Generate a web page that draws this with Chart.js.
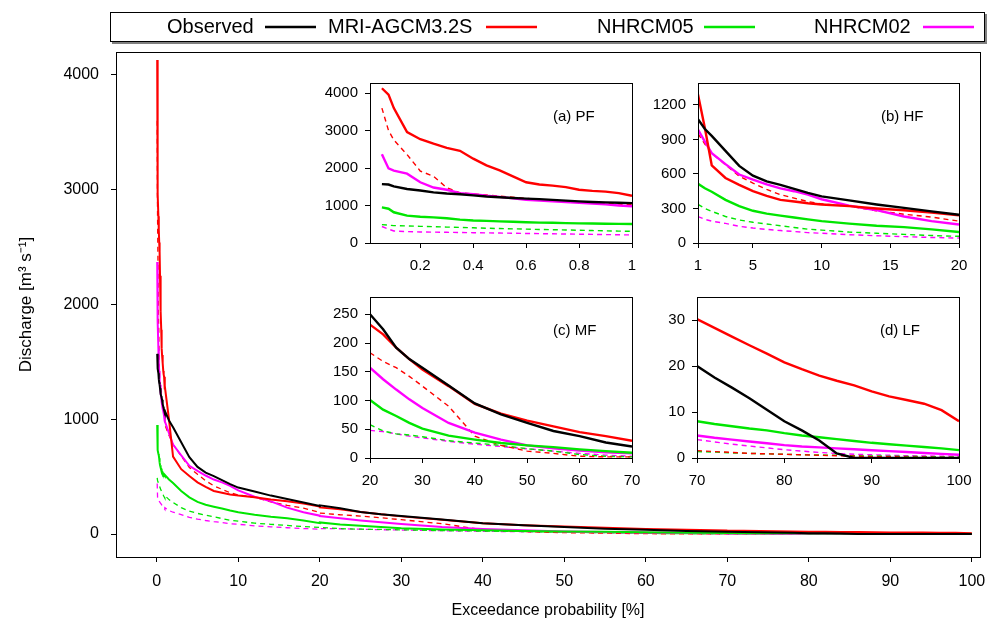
<!DOCTYPE html>
<html>
<head>
<meta charset="utf-8">
<title>Flow duration curves</title>
<script src="https://cdn.jsdelivr.net/npm/chart.js@4.4.1/dist/chart.umd.min.js"></script>
<style>
  html, body { margin: 0; padding: 0; background: #fff; }
  #wrap { position: relative; width: 990px; height: 624px; overflow: hidden; }
  #wrap canvas { position: absolute; }
</style>
</head>
<body>
<div id="wrap">
  <canvas id="mainChart"></canvas>
  <canvas id="pfChart"></canvas>
  <canvas id="hfChart"></canvas>
  <canvas id="mfChart"></canvas>
  <canvas id="lfChart"></canvas>
</div>
<script>
// exceedance probability [%] for each flow segment
const pfX = [0.055, 0.08, 0.1, 0.15, 0.2, 0.25, 0.3, 0.35, 0.4, 0.45, 0.5, 0.55, 0.6, 0.65, 0.7, 0.75, 0.8, 0.85, 0.9, 0.95, 1.0];
const hfX = [1, 1.5, 2, 3, 4, 5, 6, 7, 8, 9, 10, 12, 14, 16, 18, 20];
const mfX = [20, 22.5, 25, 27.5, 30, 35, 40, 45, 50, 55, 60, 65, 70];
const lfX = [70, 72, 74, 76, 78, 80, 82, 84, 86, 88, 90, 92, 94, 96, 98, 100];

// Observed
const obsPF = [1570, 1560, 1510, 1440, 1400, 1350, 1320, 1300, 1270, 1240, 1220, 1200, 1185, 1170, 1150, 1130, 1110, 1095, 1085, 1075, 1065];
const obsHF = [1075, 990, 930, 800, 670, 585, 535, 505, 470, 435, 405, 370, 335, 305, 275, 245];
const obsMF = [250, 224, 192, 172, 157, 126, 95, 76, 61, 47, 38, 27, 20];
const obsLF = [20, 17.5, 15.3, 13, 10.5, 8, 6, 3.8, 1.0, 0, 0, 0, 0, 0, 0, 0];

// MRI-AGCM3.2S (solid) and its dashed counterpart
const mriPF = [4130, 3960, 3600, 2960, 2770, 2650, 2540, 2460, 2250, 2070, 1940, 1780, 1620, 1560, 1530, 1490, 1420, 1390, 1370, 1330, 1260];
const mriHF = [1290, 1000, 675, 565, 505, 450, 410, 375, 360, 345, 335, 320, 300, 285, 265, 240];
const mriMF = [232, 215, 192, 172, 154, 125, 94, 77, 65, 55, 45, 38, 30];
const mriLF = [30.2, 28.3, 26.4, 24.5, 22.7, 20.8, 19.3, 17.9, 16.8, 15.8, 14.5, 13.4, 12.6, 11.8, 10.4, 8];
const mriDashPF = [3600, 3000, 2750, 2360, 1920, 1780, 1475, 1340, 1310, 1280, 1250, 1220, 1190, 1160, 1140, 1120, 1100, 1080, 1060, 1040, 1020];
const mriDashHF = [950, 860, 780, 680, 580, 520, 465, 420, 390, 360, 340, 320, 280, 250, 225, 190];
const mriDashMF = [183, 168, 157, 142, 125, 90, 38, 22, 12, 8, 3, 2, 2];
const mriDashLF = [1.6, 1.4, 1.2, 1, 0.9, 0.8, 0.7, 0.6, 0.5, 0.4, 0.3, 0.3, 0.2, 0.2, 0.1, 0.1];

// NHRCM05
const nh05PF = [950, 915, 820, 730, 700, 685, 660, 625, 600, 590, 578, 568, 555, 545, 540, 530, 525, 520, 515, 510, 507];
const nh05HF = [515, 475, 445, 375, 320, 280, 255, 238, 222, 205, 190, 168, 150, 138, 118, 95];
const nh05MF = [101, 84, 73, 61, 51, 39, 32, 26, 22, 19, 15, 12, 9];
const nh05LF = [8, 7.4, 6.9, 6.4, 6, 5.4, 4.9, 4.5, 4.1, 3.7, 3.3, 3, 2.7, 2.4, 2.1, 1.7];
const nh05DashPF = [490, 475, 465, 455, 445, 435, 425, 415, 405, 395, 385, 378, 370, 362, 355, 348, 340, 332, 325, 318, 311];
const nh05DashHF = [335, 300, 275, 230, 200, 180, 165, 150, 135, 120, 112, 95, 85, 75, 65, 58];
const nh05DashMF = [58, 47, 42, 40, 37, 30, 26, 22, 16, 12, 6, 3, 2];
const nh05DashLF = [1.4, 1.3, 1.1, 1, 0.9, 0.8, 0.7, 0.65, 0.6, 0.5, 0.45, 0.4, 0.35, 0.3, 0.25, 0.2];

// NHRCM02
const nh02PF = [2370, 1990, 1930, 1850, 1620, 1480, 1420, 1330, 1300, 1260, 1230, 1190, 1150, 1130, 1110, 1090, 1070, 1050, 1030, 1000, 980];
const nh02HF = [985, 880, 780, 685, 595, 550, 510, 475, 450, 420, 380, 325, 285, 230, 190, 160];
const nh02MF = [157, 137, 119, 102, 87, 61, 44, 32, 22, 17, 13, 10, 8];
const nh02LF = [4.9, 4.4, 4, 3.6, 3.2, 2.8, 2.5, 2.3, 2.1, 1.9, 1.7, 1.5, 1.3, 1.1, 0.9, 0.7];
const nh02DashPF = [440, 370, 320, 305, 295, 290, 285, 280, 275, 270, 265, 260, 255, 250, 245, 240, 235, 230, 225, 220, 215];
const nh02DashHF = [230, 205, 190, 170, 145, 130, 118, 108, 100, 90, 85, 72, 63, 55, 48, 43];
const nh02DashMF = [48, 46, 42, 38, 35, 29, 24, 20, 16, 12, 8, 5, 3];
const nh02DashLF = [4, 3.5, 3, 2.6, 2.2, 1.8, 1.5, 1.2, 1, 0.8, 0.7, 0.6, 0.5, 0.45, 0.4, 0.4];

// tick labels
const mainXTicks = [0, 10, 20, 30, 40, 50, 60, 70, 80, 90, 100];
const mainYTicks = [0, 1000, 2000, 3000, 4000];
const pfXTicks = [0.2, 0.4, 0.6, 0.8, 1];
const pfYTicks = [0, 1000, 2000, 3000, 4000];
const hfXTicks = [1, 5, 10, 15, 20];
const hfYTicks = [0, 300, 600, 900, 1200];
const mfXTicks = [20, 30, 40, 50, 60, 70];
const mfYTicks = [0, 50, 100, 150, 200, 250];
const lfXTicks = [70, 80, 90, 100];
const lfYTicks = [0, 10, 20, 30];

const segX = [pfX, hfX, mfX, lfX];
const series = [
  { label: 'Observed', color: '#000000', dashed: false, parts: [obsPF, obsHF, obsMF, obsLF] },
  { label: 'MRI-AGCM3.2S', color: '#ff0000', dashed: false, parts: [mriPF, mriHF, mriMF, mriLF] },
  { label: 'NHRCM05', color: '#00e600', dashed: false, parts: [nh05PF, nh05HF, nh05MF, nh05LF] },
  { label: 'NHRCM02', color: '#ff00ff', dashed: false, parts: [nh02PF, nh02HF, nh02MF, nh02LF] },
  { label: 'MRI-AGCM3.2S', color: '#ff0000', dashed: true, parts: [mriDashPF, mriDashHF, mriDashMF, mriDashLF] },
  { label: 'NHRCM05', color: '#00e600', dashed: true, parts: [nh05DashPF, nh05DashHF, nh05DashMF, nh05DashLF] },
  { label: 'NHRCM02', color: '#ff00ff', dashed: true, parts: [nh02DashPF, nh02DashHF, nh02DashMF, nh02DashLF] }
];

const FONT = "'Liberation Sans', Arial, Helvetica, sans-serif";
Chart.defaults.font.family = FONT;
Chart.defaults.color = '#000';
Chart.defaults.animation = false;

function makeDatasets(segs, lw, dashLw) {
  return series.map(s => ({
    label: s.label,
    data: segs.flatMap(k => segX[k].map((x, i) => ({ x: x, y: s.parts[k][i] }))),
    borderColor: s.color,
    backgroundColor: s.color,
    borderWidth: s.dashed ? dashLw : lw,
    borderDash: s.dashed ? [5, 4] : [],
    pointRadius: 0,
    tension: 0,
    fill: false
  }));
}

function makeAxis(min, max, tickList, fontSize, pad, fitSize, horizontal, title) {
  const ax = {
    type: 'linear',
    min: min,
    max: max,
    afterBuildTicks: (scale) => { scale.ticks = tickList.map(v => ({ value: v })); },
    ticks: {
      font: { size: fontSize },
      padding: pad,
      autoSkip: false,
      maxRotation: 0,
      callback: (v) => String(v)
    },
    grid: { drawOnChartArea: false, drawTicks: true, tickLength: 5, color: '#000', lineWidth: 1 },
    border: { display: true, color: '#000', width: 1 },
    afterFit: (scale) => {
      if (horizontal) {
        scale.height = fitSize;
        scale.paddingLeft = 0;
        scale.paddingRight = 0;
      } else {
        scale.width = fitSize;
        scale.paddingTop = 0;
        scale.paddingBottom = 0;
      }
    }
  };
  if (title) ax.title = title;
  return ax;
}

// box around the plot area
const framePlugin = {
  id: 'frame',
  afterDraw(chart) {
    const { ctx, chartArea: a } = chart;
    ctx.save();
    ctx.strokeStyle = '#000';
    ctx.lineWidth = 1;
    ctx.strokeRect(Math.round(a.left) + 0.5, Math.round(a.top) + 0.5,
      Math.round(a.right - a.left), Math.round(a.bottom - a.top));
    ctx.restore();
  }
};

// legend: label text first, line sample after it
const legendPlugin = {
  id: 'topLegend',
  afterDraw(chart) {
    const ctx = chart.ctx;
    const textX = [167, 328, 597, 814];
    const lineX = [265, 486, 704, 923];
    ctx.save();
    ctx.fillStyle = '#808080';
    ctx.fillRect(112, 14, 875, 30);
    ctx.fillStyle = '#fff';
    ctx.fillRect(110, 12, 875, 30);
    ctx.strokeStyle = '#000';
    ctx.lineWidth = 1;
    ctx.strokeRect(110.5, 12.5, 874, 29);
    ctx.font = '20px ' + FONT;
    ctx.textBaseline = 'middle';
    ctx.textAlign = 'left';
    chart.data.datasets.slice(0, 4).forEach((ds, i) => {
      ctx.fillStyle = '#000';
      ctx.fillText(ds.label, textX[i], 27);
      ctx.strokeStyle = ds.borderColor;
      ctx.lineWidth = 2.5;
      ctx.beginPath();
      ctx.moveTo(lineX[i], 27);
      ctx.lineTo(lineX[i] + 51, 27);
      ctx.stroke();
    });
    ctx.restore();
  }
};

function panelLabel(text) {
  return {
    id: 'panelLabel',
    afterDraw(chart) {
      const { ctx, chartArea: a } = chart;
      ctx.save();
      ctx.font = '15px ' + FONT;
      ctx.fillStyle = '#000';
      ctx.textBaseline = 'middle';
      ctx.textAlign = 'left';
      ctx.fillText(text, a.left + 183, a.top + 34);
      ctx.restore();
    }
  };
}

function sizeCanvas(cv, left, top, w, h) {
  cv.width = w;
  cv.height = h;
  cv.style.left = left + 'px';
  cv.style.top = top + 'px';
  cv.style.width = w + 'px';
  cv.style.height = h + 'px';
}

// main chart
const mainCanvas = document.getElementById('mainChart');
sizeCanvas(mainCanvas, 0, 0, 990, 624);
new Chart(mainCanvas.getContext('2d'), {
  type: 'line',
  data: { datasets: makeDatasets([0, 1, 2, 3], 2, 1.3) },
  options: {
    responsive: false,
    devicePixelRatio: 1,
    layout: { padding: { top: 52, right: 10, left: 0, bottom: 0 } },
    plugins: { legend: { display: false }, tooltip: { enabled: false } },
    scales: {
      x: makeAxis(-5, 101, mainXTicks, 16, 10, 67, true,
        { display: true, text: 'Exceedance probability [%]', font: { size: 16 }, padding: { top: 0, bottom: 4 } }),
      y: makeAxis(-200, 4200, mainYTicks, 16, 12, 116, false,
        { display: true, text: 'Discharge [m³ s⁻¹]', font: { size: 17 }, padding: { top: 16, bottom: 0 } })
    }
  },
  plugins: [framePlugin, legendPlugin]
});

// inset panels
const panels = [
  { id: 'pfChart', seg: 0, area: [370, 83, 632, 243], x: [0.01, 1], y: [0, 4270], xt: pfXTicks, yt: pfYTicks, name: '(a) PF' },
  { id: 'hfChart', seg: 1, area: [698, 83, 959, 243], x: [1, 20], y: [0, 1390], xt: hfXTicks, yt: hfYTicks, name: '(b) HF' },
  { id: 'mfChart', seg: 2, area: [370, 297, 632, 458], x: [20, 70], y: [0, 280], xt: mfXTicks, yt: mfYTicks, name: '(c) MF' },
  { id: 'lfChart', seg: 3, area: [697, 297, 959, 458], x: [70, 100], y: [0, 35], xt: lfXTicks, yt: lfYTicks, name: '(d) LF' }
];

panels.forEach(p => {
  const [l, t, r, b] = p.area;
  const cv = document.getElementById(p.id);
  sizeCanvas(cv, l - 70, t - 15, r - l + 95, b - t + 47);
  new Chart(cv.getContext('2d'), {
    type: 'line',
    data: { datasets: makeDatasets([p.seg], 2.4, 1.4) },
    options: {
      responsive: false,
      devicePixelRatio: 1,
      layout: { padding: { top: 15, right: 25, left: 0, bottom: 0 } },
      plugins: { legend: { display: false }, tooltip: { enabled: false } },
      scales: {
        x: makeAxis(p.x[0], p.x[1], p.xt, 15, 9, 32, true, null),
        y: makeAxis(p.y[0], p.y[1], p.yt, 15, 7, 70, false, null)
      }
    },
    plugins: [framePlugin, panelLabel(p.name)]
  });
});
</script>
</body>
</html>
